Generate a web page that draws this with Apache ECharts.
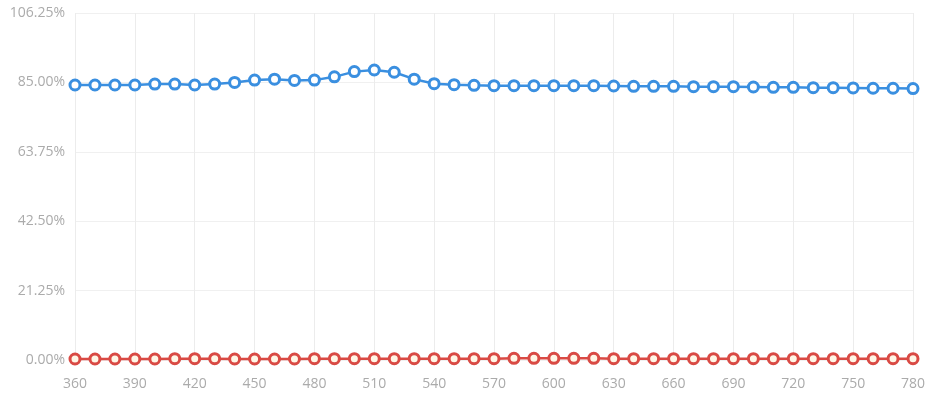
<!DOCTYPE html>
<html>
<head>
<meta charset="utf-8">
<script src="https://cdn.jsdelivr.net/npm/echarts@6/dist/echarts.min.js"></script>
<style>
  html, body { margin: 0; padding: 0; background: #fff; }
  #chart { width: 939px; height: 398px; }
</style>
</head>
<body>
<div id="chart"></div>
<script>
// Wavelength positions (x) and the two percentage series
const wavelengths = [360, 370, 380, 390, 400, 410, 420, 430, 440, 450, 460, 470, 480, 490, 500,
  510, 520, 530, 540, 550, 560, 570, 580, 590, 600, 610, 620, 630, 640, 650, 660, 670, 680,
  690, 700, 710, 720, 730, 740, 750, 760, 770, 780];

const blueValues = [84.2, 84.2, 84.2, 84.2, 84.5, 84.5, 84.2, 84.5, 85.0, 85.7, 86.0, 85.6, 85.7,
  86.7, 88.3, 88.8, 88.1, 86.0, 84.6, 84.3, 84.1, 84.0, 84.0, 84.0, 84.0, 84.0, 84.0, 83.9,
  83.8, 83.8, 83.8, 83.7, 83.7, 83.7, 83.6, 83.5, 83.5, 83.4, 83.4, 83.3, 83.2, 83.2, 83.1];

const redValues = [0.3, 0.3, 0.3, 0.3, 0.3, 0.4, 0.4, 0.4, 0.3, 0.3, 0.3, 0.3, 0.4, 0.4, 0.4,
  0.4, 0.4, 0.4, 0.4, 0.4, 0.4, 0.4, 0.5, 0.5, 0.5, 0.5, 0.5, 0.4, 0.4, 0.4, 0.4, 0.4, 0.4,
  0.4, 0.4, 0.4, 0.4, 0.4, 0.4, 0.4, 0.4, 0.4, 0.4];

const yMin = 0, yMax = 106.25, yStep = 21.25;
const xMin = 360, xMax = 780, xStep = 30;

const pair = vals => wavelengths.map((w, i) => [w, vals[i]]);

const chart = echarts.init(document.getElementById('chart'));
const labelFont = { color: '#ababab', fontSize: 14, fontFamily: 'Open Sans, sans-serif' };
chart.setOption({
  animation: false,
  grid: { left: 75, right: 26, top: 13, bottom: 38, containLabel: false },
  xAxis: {
    type: 'value', min: xMin, max: xMax, interval: xStep,
    axisLine: { show: false }, axisTick: { show: false },
    axisLabel: Object.assign({ margin: 17 }, labelFont),
    splitLine: { show: true, lineStyle: { color: '#ececec', width: 1 } }
  },
  yAxis: {
    type: 'value', min: yMin, max: yMax, interval: yStep,
    axisLine: { show: false }, axisTick: { show: false },
    axisLabel: Object.assign({ margin: 10, formatter: v => v.toFixed(2) + '%' }, labelFont),
    splitLine: { show: true, lineStyle: { color: '#f0f0f0', width: 1 } }
  },
  series: [
    {
      type: 'line', data: pair(blueValues), clip: false,
      symbol: 'circle', symbolSize: 10,
      lineStyle: { color: '#3a8fe0', width: 2.5 },
      itemStyle: { color: '#ffffff', borderWidth: 3, borderColor: '#3a8fe0' }
    },
    {
      type: 'line', data: pair(redValues), clip: false,
      symbol: 'circle', symbolSize: 10,
      lineStyle: { color: '#d94a44', width: 2.5 },
      itemStyle: { color: '#fff6e6', borderWidth: 3, borderColor: '#d94a44' }
    }
  ]
});
</script>
</body>
</html>
